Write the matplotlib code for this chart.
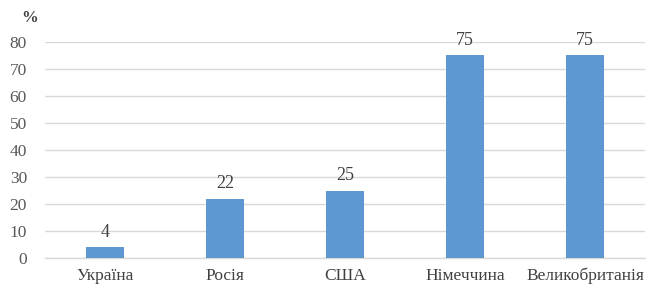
import matplotlib.pyplot as plt

countries = ['Україна', 'Росія', 'США', 'Німеччина', 'Великобританія']
values = [4, 22, 25, 75, 75]
yticks = [0, 10, 20, 30, 40, 50, 60, 70, 80]

plt.rcParams['font.family'] = ['Liberation Serif', 'DejaVu Serif']

fig = plt.figure(figsize=(6.57, 2.85), dpi=100)
ax = fig.add_axes([0.0685, 0.0947, 0.9135, 0.758])

x = range(len(countries))
bars = ax.bar(x, values, width=0.32, color='#5E98D0', zorder=3)
for xi, v in zip(x, values):
    ax.text(xi, v + 2.3, str(v), ha='center', va='bottom', fontsize=13, color='#404040')

ax.set_xlim(-0.5, len(countries) - 0.5)
ax.set_ylim(0, 80)
ax.set_yticks(yticks)
ax.set_xticks(list(x))
ax.set_xticklabels(countries, fontsize=12.5, color='#404040')
ax.tick_params(axis='y', labelsize=12.5, labelcolor='#595959', length=0, pad=13)
ax.tick_params(axis='x', length=0, pad=7)
ax.grid(axis='y', color='#D9D9D9', linewidth=1, zorder=0)
for s in ['top', 'right', 'left']:
    ax.spines[s].set_visible(False)
ax.spines['bottom'].set_color('#D9D9D9')
ax.spines['bottom'].set_linewidth(1)

fig.text(30 / 657, 1 - 18 / 285, '%', ha='center', va='center', fontsize=12,
         fontweight='bold', color='#404040')

fig.savefig('out.png', dpi=100)
